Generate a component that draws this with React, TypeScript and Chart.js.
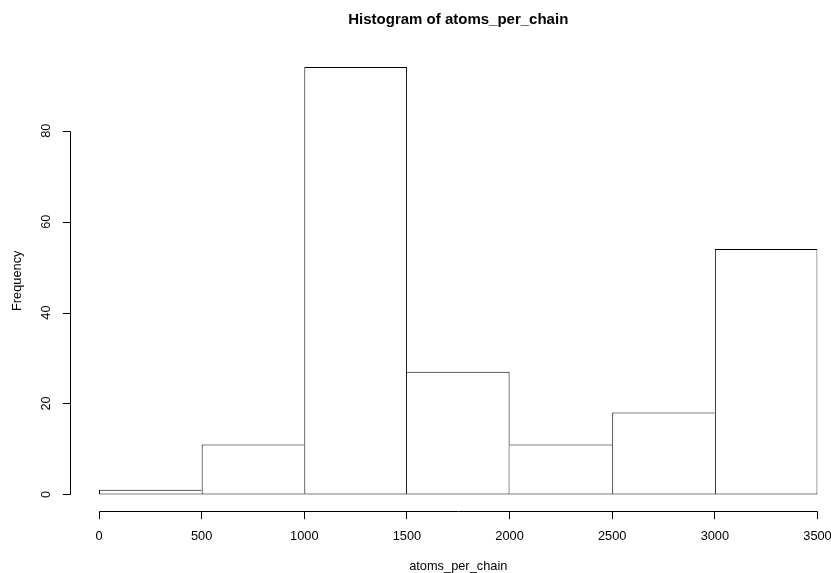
import React, { useEffect, useRef } from 'react';
import { Chart, registerables } from 'chart.js';

Chart.register(...registerables);

const binStarts = [0, 500, 1000, 1500, 2000, 2500, 3000];
const binWidth = 500;
const counts = [1, 11, 94, 27, 11, 18, 54];
const xTicks = [0, 500, 1000, 1500, 2000, 2500, 3000, 3500];
const yTicks = [0, 20, 40, 60, 80];
const titleText = 'Histogram of atoms_per_chain';
const xLabel = 'atoms_per_chain';
const yLabel = 'Frequency';

const FONT = '"Liberation Sans", Arial, Helvetica, sans-serif';

const rAxes = {
  id: 'rAxes',
  afterDraw(chart: any) {
    const ctx = chart.ctx as CanvasRenderingContext2D;
    const xs = chart.scales.x;
    const ys = chart.scales.y;
    const ca = chart.chartArea;
    ctx.save();
    ctx.strokeStyle = '#000';
    ctx.fillStyle = '#000';
    ctx.lineWidth = 1;
    const tick = 7.7;

    // x axis
    const axY = Math.floor(ca.bottom) + 0.5;
    const x0 = Math.floor(xs.getPixelForValue(xTicks[0])) + 0.5;
    const x1 = Math.floor(xs.getPixelForValue(xTicks[xTicks.length - 1])) + 0.5;
    ctx.beginPath();
    ctx.moveTo(x0, axY);
    ctx.lineTo(x1, axY);
    xTicks.forEach((v) => {
      const px = Math.floor(xs.getPixelForValue(v)) + 0.5;
      ctx.moveTo(px, axY);
      ctx.lineTo(px, axY + tick);
    });
    ctx.stroke();
    ctx.font = `12.8px ${FONT}`;
    ctx.textAlign = 'center';
    ctx.textBaseline = 'middle';
    xTicks.forEach((v) => {
      ctx.fillText(String(v), xs.getPixelForValue(v), 536);
    });

    // y axis
    const axX = Math.floor(ca.left) + 0.5;
    const y0 = Math.round(ys.getPixelForValue(yTicks[0])) + 0.5;
    const y1 = Math.round(ys.getPixelForValue(yTicks[yTicks.length - 1])) + 0.5;
    ctx.beginPath();
    ctx.moveTo(axX, y0);
    ctx.lineTo(axX, y1);
    yTicks.forEach((v) => {
      const py = Math.round(ys.getPixelForValue(v)) + 0.5;
      ctx.moveTo(axX, py);
      ctx.lineTo(axX - tick, py);
    });
    ctx.stroke();
    yTicks.forEach((v) => {
      ctx.save();
      ctx.translate(46, ys.getPixelForValue(v));
      ctx.rotate(-Math.PI / 2);
      ctx.fillText(String(v), 0, 0);
      ctx.restore();
    });

    // axis titles
    const midX = xs.getPixelForValue((xTicks[0] + xTicks[xTicks.length - 1]) / 2);
    ctx.fillText(xLabel, midX, 566);
    ctx.save();
    ctx.translate(17, (ca.top + ca.bottom) / 2);
    ctx.rotate(-Math.PI / 2);
    ctx.fillText(yLabel, 0, 0);
    ctx.restore();

    // main title
    ctx.font = `bold 15px ${FONT}`;
    ctx.fillText(titleText, midX, 19.5);
    ctx.restore();
  },
};

export default function App() {
  const ref = useRef<HTMLCanvasElement | null>(null);
  useEffect(() => {
    if (!ref.current) return;
    const n = counts.length;
    const chart = new Chart(ref.current, {
      type: 'bar',
      data: {
        datasets: [
          {
            data: binStarts.map((s, i) => ({ x: s + binWidth / 2, y: counts[i] })),
            backgroundColor: '#ffffff',
            borderColor: '#000000',
            borderWidth: (c: any) => {
              const i = c.dataIndex;
              const h = counts[i];
              return {
                top: 1,
                bottom: 1,
                left: i === 0 || h >= counts[i - 1] ? 1 : 0,
                right: i === n - 1 || h > counts[i + 1] ? 1 : 0,
              };
            },
            borderSkipped: false,
            barPercentage: 1,
            categoryPercentage: 1,
            barThickness: 'flex',
            inflateAmount: 0,
          } as any,
        ],
      },
      options: {
        animation: false,
        responsive: false,
        devicePixelRatio: 1,
        layout: { padding: { left: 70.28, right: 13.5, top: 50, bottom: 61.5 } },
        plugins: {
          legend: { display: false },
          tooltip: { enabled: false },
          title: { display: false },
        },
        scales: {
          x: {
            type: 'linear',
            min: -140,
            max: 3500,
            offset: false,
            grid: { offset: false },
            display: false,
            afterBuildTicks: (s: any) => {
              s.ticks = xTicks.map((v) => ({ value: v }));
            },
          },
          y: {
            type: 'linear',
            min: -3.76,
            max: 97.76,
            display: false,
            afterBuildTicks: (s: any) => {
              s.ticks = yTicks.map((v) => ({ value: v }));
            },
          },
        },
      } as any,
      plugins: [rAxes],
    });
    return () => chart.destroy();
  }, []);
  return (
    <div style={{ position: 'fixed', left: 0, top: 0, width: 831, height: 573, background: '#fff' }}>
      <canvas ref={ref} width={831} height={573} style={{ display: 'block', width: 831, height: 573 }} />
    </div>
  );
}
